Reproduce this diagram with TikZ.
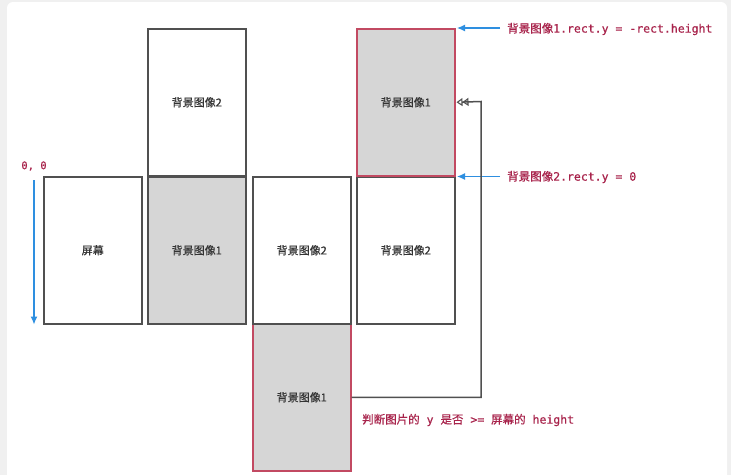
\documentclass[tikz,border=0pt]{standalone}
\usepackage{fontspec}
\newfontfamily\cjk[FakeBold=0.35]{Noto Sans CJK SC}
\newfontfamily\cjkl[FakeBold=0.4]{Noto Sans CJK SC}
\newfontfamily\mono[FakeBold=0.4]{DejaVu Sans Mono}
\usetikzlibrary{arrows.meta}
\definecolor{boxline}{HTML}{505050}
\definecolor{boxfill}{HTML}{D6D6D6}
\definecolor{redline}{HTML}{C24A62}
\definecolor{labred}{HTML}{A8234B}
\definecolor{arrblue}{HTML}{2E8FE0}
\definecolor{txtdark}{HTML}{333333}
\definecolor{bgout}{HTML}{F0F0F0}
\tikzset{
  panel/.style={draw=boxline, line width=1.5pt, minimum width=98pt, minimum height=147pt,
    inner sep=0pt, anchor=north west, font=\cjk\fontsize{11}{13}\selectfont, text=txtdark},
  grayred/.style={panel, fill=boxfill, draw=redline},
  graybox/.style={panel, fill=boxfill},
  lab/.style={anchor=west, inner sep=0pt, text=labred, font=\mono\fontsize{11.5}{13}\selectfont},
  bluearr/.style={draw=arrblue, line width=1.2pt, -{Latex[length=8pt,width=7pt]}},
  conn/.style={draw=boxline, line width=1.5pt, -{Triangle[open,length=6pt,width=8pt,line width=1.1pt]Triangle[open,length=6pt,width=8pt,line width=1.1pt]}}
}
\begin{document}
\begin{tikzpicture}[x=1pt,y=-1pt]
\useasboundingbox (0,0) rectangle (731,475);
\fill[bgout] (0,0) rectangle (731,475);
\fill[white, rounded corners=6pt] (7,2) rectangle (727,495);
% boxes
\node[panel] (s) at (43,176) {屏幕};
\node[panel] (a2) at (147,28) {背景图像2};
\node[graybox] (a1) at (147,176) {背景图像1};
\node[grayred] (b1) at (252,323) {背景图像1};
\node[panel] (b2) at (252,176) {背景图像2};
\node[panel] (c2) at (356,176) {背景图像2};
\node[grayred] (c1) at (356,28) {背景图像1};
% origin arrow
\node[lab, anchor=center, font=\mono\fontsize{10.5}{12}\selectfont] (o) at (34,166) {0, 0};
\coordinate (otop) at (34,180);
\draw[bluearr] (otop) -- (otop |- s.south);
% labels at right
\node[lab] (l1) at (507,29) {{\cjkl 背景图像}1.rect.y = -rect.height};
\node[lab] (l2) at (507,177) {{\cjkl 背景图像}2.rect.y = 0};
\draw[bluearr] ([xshift=-7pt]l1.west |- c1.north east) -- ([xshift=1.5pt]c1.north east);
\draw[bluearr] ([xshift=-7pt]l2.west |- c1.south east) -- ([xshift=1.5pt]c1.south east);
% loop connector
\coordinate (turn) at (481,101.5);
\draw[conn] (b1.east) -| (turn) -- ([xshift=1pt]c1.east);
\node[lab] (l3) at (362,420) {{\cjkl 判断图片的} y {\cjkl 是否} >= {\cjkl 屏幕的} height};
\end{tikzpicture}
\end{document}
